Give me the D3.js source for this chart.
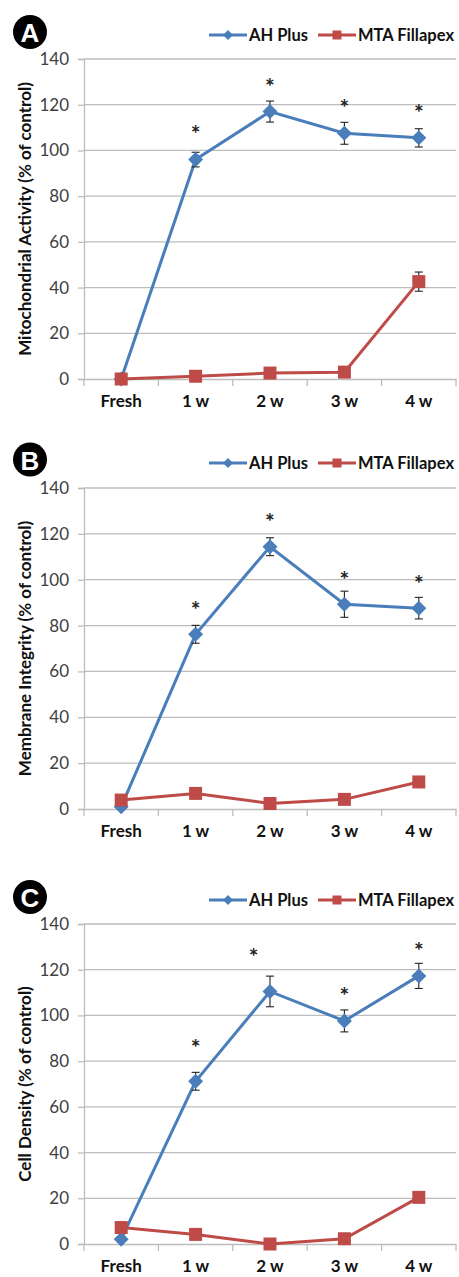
<!DOCTYPE html>
<html>
<head>
<meta charset="utf-8">
<script src="https://cdn.jsdelivr.net/npm/d3@7"></script>
<style>
  body { margin: 0; background: #fff; }
  svg { display: block; font-family: Lato, "Open Sans", sans-serif; }
</style>
</head>
<body>
<div id="chart"></div>
<script>
// x categories and y ticks (shared by the three panels)
const categories = ['Fresh', '1 w', '2 w', '3 w', '4 w'];
const yTicks = [0, 20, 40, 60, 80, 100, 120, 140];
const seriesNames = ['AH Plus', 'MTA Fillapex'];

// A - mitochondrial activity
const mitoAH = [0, 96, 117, 107.5, 105.5];
const mitoAHErr = [0, 3.2, 4.6, 4.8, 4];
const mitoMTA = [0, 1.2, 2.6, 3, 42.6];
const mitoMTAErr = [0, 0.5, 0.5, 0.5, 4.2];
const mitoStars = [null, 109, 129.6, 120.2, 118.1];

// B - membrane integrity
const membAH = [1, 76.2, 114.4, 89.3, 87.6];
const membAHErr = [0, 3.9, 3.9, 5.7, 4.7];
const membMTA = [3.9, 6.8, 2.4, 4.2, 11.8];
const membMTAErr = [0, 0.5, 0.5, 0.5, 0.5];
const membStars = [null, 88.5, 126.8, 101.6, 99.9];

// C - cell density
const cellAH = [2.1, 71.2, 110.5, 97.6, 117.3];
const cellAHErr = [0, 3.9, 6.7, 4.8, 5.5];
const cellMTA = [7.2, 4.2, 0, 2.3, 20.4];
const cellMTAErr = [0, 0.5, 0.5, 0.5, 0.5];
const cellStars = [null, 87.5, 127.2, 110.4, 129.8];
const cellStarShift = [0, 0, -0.22, 0, 0]; // in band widths

const panels = [
  { letter: 'A', title: 'Mitochondrial Activity (% of control)', ah: mitoAH, ahErr: mitoAHErr,
    mta: mitoMTA, mtaErr: mitoMTAErr, stars: mitoStars, starShift: [0, 0, 0, 0, 0],
    top: 59, bottom: 379, circleY: 32, legendY: 35 },
  { letter: 'B', title: 'Membrane Integrity (% of control)', ah: membAH, ahErr: membAHErr,
    mta: membMTA, mtaErr: membMTAErr, stars: membStars, starShift: [0, 0, 0, 0, 0],
    top: 488, bottom: 809, circleY: 459.5, legendY: 463 },
  { letter: 'C', title: 'Cell Density (% of control)', ah: cellAH, ahErr: cellAHErr,
    mta: cellMTA, mtaErr: cellMTAErr, stars: cellStars, starShift: cellStarShift,
    top: 924, bottom: 1244, circleY: 897, legendY: 900 }
];

const blue = '#4a7ebb';
const red = '#be4b48';
const gridColor = '#bdbdbd';
const fontSize = '17px';

const W = 459, H = 1277;
const left = 84, right = 456;

const svg = d3.select('#chart').append('svg')
  .attr('width', W)
  .attr('height', H);

const x = d3.scaleBand()
  .domain(categories)
  .range([left, right])
  .paddingInner(0)
  .paddingOuter(0);

const cx = (d, i) => x(categories[i]) + x.bandwidth() / 2;

function diamondPath(r) {
  return `M0,${-r}L${r},0L0,${r}L${-r},0Z`;
}
function squarePath(r) {
  return `M${-r},${-r}H${r}V${r}H${-r}Z`;
}

panels.forEach(p => {
  const g = svg.append('g');
  const y = d3.scaleLinear().domain([0, 140]).range([p.bottom, p.top]);

  // gridlines
  g.append('g')
    .selectAll('line')
    .data(yTicks.filter(t => t > 0))
    .join('line')
    .attr('x1', left).attr('x2', right)
    .attr('y1', d => y(d)).attr('y2', d => y(d))
    .attr('stroke', gridColor)
    .attr('stroke-width', 1.3);

  // y axis
  const yAxis = g.append('g')
    .attr('transform', `translate(${left},0)`)
    .call(d3.axisLeft(y).tickValues(yTicks).tickSize(6).tickPadding(9));
  yAxis.selectAll('.domain, .tick line').attr('stroke', gridColor).attr('stroke-width', 1.3);
  yAxis.selectAll('.tick text')
    .attr('fill', '#404040')
    .attr('font-size', fontSize)
    .attr('font-family', 'Lato, sans-serif');

  // x axis
  const xAxis = g.append('g')
    .attr('transform', `translate(0,${p.bottom})`)
    .call(d3.axisBottom(x).tickSize(0).tickPadding(16));
  xAxis.select('.domain').attr('stroke', gridColor).attr('stroke-width', 1.3);
  xAxis.selectAll('.tick text')
    .attr('fill', '#111')
    .attr('font-size', fontSize)
    .attr('font-weight', 'bold')
    .attr('font-family', 'Lato, sans-serif');
  // band boundary ticks
  g.append('g')
    .selectAll('line')
    .data(categories.concat(['end']))
    .join('line')
    .attr('x1', (d, i) => i < categories.length ? x(d) : right)
    .attr('x2', (d, i) => i < categories.length ? x(d) : right)
    .attr('y1', p.bottom).attr('y2', p.bottom + 7)
    .attr('stroke', gridColor)
    .attr('stroke-width', 1.3);

  // y title
  g.append('text')
    .attr('transform', `translate(24,${(p.top + p.bottom) / 2}) rotate(-90)`)
    .attr('text-anchor', 'middle')
    .attr('dominant-baseline', 'central')
    .attr('font-size', fontSize)
    .attr('font-weight', 'bold')
    .attr('fill', '#111')
    .text(p.title);

  // panel letter
  g.append('circle')
    .attr('cx', 30).attr('cy', p.circleY).attr('r', 17)
    .attr('fill', '#000');
  g.append('text')
    .attr('x', 30).attr('y', p.circleY + 1)
    .attr('text-anchor', 'middle')
    .attr('dominant-baseline', 'central')
    .attr('font-size', '26px')
    .attr('font-weight', 'bold')
    .attr('font-family', 'Liberation Sans, Arial, sans-serif')
    .attr('fill', '#fff')
    .text(p.letter);

  // legend
  const leg = [
    { name: seriesNames[0], color: blue, x0: 209, shape: diamondPath(5) },
    { name: seriesNames[1], color: red, x0: 318, shape: squarePath(4.5) }
  ];
  leg.forEach(l => {
    g.append('line')
      .attr('x1', l.x0).attr('x2', l.x0 + 38)
      .attr('y1', p.legendY).attr('y2', p.legendY)
      .attr('stroke', l.color).attr('stroke-width', 3);
    g.append('path')
      .attr('d', l.shape)
      .attr('transform', `translate(${l.x0 + 19},${p.legendY})`)
      .attr('fill', l.color);
    g.append('text')
      .attr('x', l.x0 + 40).attr('y', p.legendY)
      .attr('dominant-baseline', 'central')
      .attr('font-size', '16.5px')
      .attr('font-weight', 'bold')
      .attr('fill', '#111')
      .text(l.name);
  });

  const line = d3.line()
    .x((d, i) => cx(d, i))
    .y(d => y(d));

  const series = [
    { vals: p.ah, err: p.ahErr, color: blue, shape: diamondPath(7.5) },
    { vals: p.mta, err: p.mtaErr, color: red, shape: squarePath(6.5) }
  ];

  series.forEach(s => {
    g.append('path')
      .datum(s.vals)
      .attr('d', line)
      .attr('fill', 'none')
      .attr('stroke', s.color)
      .attr('stroke-width', 3);

    // error bars
    const eb = g.append('g')
      .selectAll('g')
      .data(s.vals.map((v, i) => ({ v, e: s.err[i], i })).filter(d => d.e > 0))
      .join('g')
      .attr('stroke', '#222')
      .attr('stroke-width', 1.1);
    eb.append('line')
      .attr('x1', d => cx(d.v, d.i)).attr('x2', d => cx(d.v, d.i))
      .attr('y1', d => y(d.v - d.e)).attr('y2', d => y(d.v + d.e));
    eb.append('line')
      .attr('x1', d => cx(d.v, d.i) - 4).attr('x2', d => cx(d.v, d.i) + 4)
      .attr('y1', d => y(d.v + d.e)).attr('y2', d => y(d.v + d.e));
    eb.append('line')
      .attr('x1', d => cx(d.v, d.i) - 4).attr('x2', d => cx(d.v, d.i) + 4)
      .attr('y1', d => y(d.v - d.e)).attr('y2', d => y(d.v - d.e));

    g.append('g')
      .selectAll('path')
      .data(s.vals)
      .join('path')
      .attr('d', s.shape)
      .attr('transform', (d, i) => `translate(${cx(d, i)},${y(d)})`)
      .attr('fill', s.color);
  });

  // significance stars
  g.append('g')
    .selectAll('text')
    .data(p.stars.map((v, i) => ({ v, i })).filter(d => d.v !== null))
    .join('text')
    .attr('x', d => cx(d.v, d.i) + p.starShift[d.i] * x.bandwidth())
    .attr('y', d => y(d.v) + 12)
    .attr('text-anchor', 'middle')
    .attr('font-size', '23px')
    .attr('font-weight', 'bold')
    .attr('fill', '#222')
    .text('*');
});
</script>
</body>
</html>
